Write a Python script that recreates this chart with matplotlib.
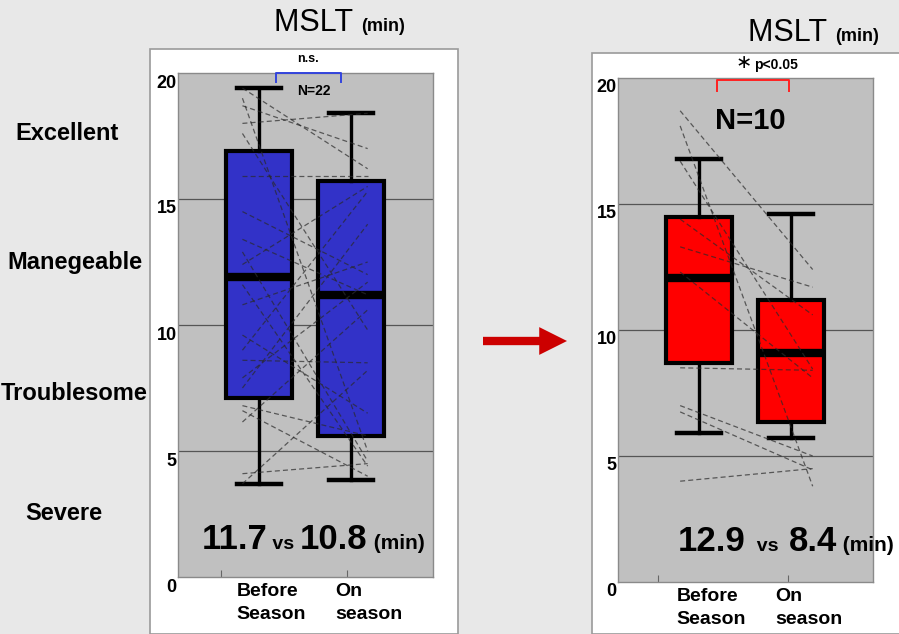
import numpy as np
import matplotlib
matplotlib.use("Agg")
import matplotlib.pyplot as plt
from matplotlib.patches import Rectangle
from matplotlib.transforms import ScaledTranslation
from matplotlib.offsetbox import TextArea, HPacker, AnnotationBbox

plt.rcParams['font.family'] = ['Liberation Sans Narrow', 'Liberation Sans', 'DejaVu Sans']

# ---- data ----
groups = ['Before\nSeason', 'On\nseason']
yticks = [0, 5, 10, 15, 20]
severity = ['Excellent', 'Manegeable', 'Troublesome', 'Severe']

# N=22 panel (box stats)
left_whislo = [3.7, 3.85]
left_q1 = [7.1, 5.6]
left_med = [11.9, 11.2]
left_q3 = [16.9, 15.7]
left_whishi = [19.4, 18.4]
left_before = [19.4, 19.0, 18.7, 18.0, 17.6, 15.9, 14.5, 13.4, 12.9, 12.4, 11.6,
               10.8, 9.6, 9.0, 8.6, 7.9, 7.5, 6.8, 6.6, 6.15, 4.1, 3.7]
left_on = [16.2, 5.0, 17.0, 18.4, 9.8, 15.9, 12.0, 11.2, 4.6, 15.5, 4.4,
           12.5, 6.5, 15.3, 8.5, 11.7, 14.0, 5.6, 4.0, 10.6, 4.5, 8.2]
left_means = ['11.7', '10.8']

# N=10 panel
right_whislo = [5.9, 5.7]
right_q1 = [8.7, 6.35]
right_med = [12.05, 9.1]
right_q3 = [14.5, 11.2]
right_whishi = [16.8, 14.6]
right_before = [18.7, 18.1, 16.7, 14.4, 13.3, 12.3, 8.5, 7.0, 6.75, 4.0]
right_on = [12.4, 3.8, 8.45, 10.6, 11.7, 8.1, 8.4, 5.0, 4.45, 4.5]
right_means = ['12.9', '8.4']

W, H = 899, 634
fig = plt.figure(figsize=(W / 100, H / 100), dpi=100, facecolor='#e8e8e8')


def px(x, y):
    # pixel (from top-left) -> figure fraction
    return x / W, 1 - y / H


# white panels behind the plots
for x0, y0, x1 in [(150, 49, 458), (592, 53, 905)]:
    fig.patches.append(Rectangle(px(x0, H), (x1 - x0) / W, (H - y0) / H,
                                 transform=fig.transFigure, facecolor='white',
                                 edgecolor='#9a9a9a', lw=1.2, zorder=-5))


def panel(rect, stats, before, on, color, xl, xr, xticks):
    ax = fig.add_axes(rect)
    ax.set_zorder(1)
    ax.set_facecolor('#c0c0c0')
    ax.set_xlim(0.11, 2.9)
    ax.set_ylim(0, 20)
    for s in ax.spines.values():
        s.set_color('#8a8a8a')
        s.set_linewidth(1)
    for v in yticks[1:4]:
        ax.axhline(v, color='#555555', lw=0.9, zorder=1)
    ax.bxp(stats, positions=[1, 2], widths=0.72, capwidths=0.48,
           showfliers=False, patch_artist=True,
           boxprops=dict(facecolor=color, edgecolor='black', linewidth=3),
           medianprops=dict(color='black', linewidth=6, solid_capstyle='butt'),
           whiskerprops=dict(color='black', linewidth=2.4),
           capprops=dict(color='black', linewidth=3.2), zorder=2)
    for b, o in zip(before, on):
        ax.plot([xl, xr], [b, o], color='#2a2a2a', lw=0.9, alpha=0.7,
                dashes=(4, 2.5), zorder=3)
    ax.set_yticks(yticks)
    ax.set_yticklabels([str(t) for t in yticks], fontsize=13, fontweight='bold')
    ax.tick_params(axis='y', length=0, pad=1)
    off = ScaledTranslation(0, -8 / 100, fig.dpi_scale_trans)
    for lab in ax.get_yticklabels():
        lab.set_transform(lab.get_transform() + off)
    ax.set_xticks(xticks)
    ax.set_xticklabels([])
    ax.tick_params(axis='x', direction='in', length=5, color='#666666')
    for x, g in zip([0.75, 1.83], groups):
        ax.text(x, -0.012, g, transform=ax.get_xaxis_transform(), ha='left',
                va='top', fontsize=14, fontweight='bold', linespacing=1.45,
                family=['Liberation Sans', 'DejaVu Sans'])
    return ax


def make_stats(lo, q1, med, q3, hi):
    return [dict(whislo=a, q1=b, med=c, q3=d, whishi=e)
            for a, b, c, d, e in zip(lo, q1, med, q3, hi)]


def mixed(parts):
    boxes = [TextArea(t, textprops=dict(fontsize=s, fontweight=w, color='black'))
             for t, s, w in parts]
    return HPacker(children=boxes, align='baseline', pad=0, sep=0)


def place(box, xy):
    ab = AnnotationBbox(box, xy, xycoords='figure fraction', frameon=False,
                        box_alignment=(0.5, 0.0), pad=0)
    ab.set_zorder(10)
    fig.add_artist(ab)


axl = panel([178 / W, 1 - 577 / H, 255 / W, 504 / H],
            make_stats(left_whislo, left_q1, left_med, left_q3, left_whishi),
            left_before, left_on, '#3232c8', 0.815, 2.185, [0.576, 1.957])
axr = panel([618 / W, 1 - 582 / H, 255 / W, 504 / H],
            make_stats(right_whislo, right_q1, right_med, right_q3, right_whishi),
            right_before, right_on, '#ff0000', 0.79, 2.24, [0.55, 1.97])

# significance brackets
axl.plot([1.185, 1.185, 1.89, 1.89], [19.65, 20.0, 20.0, 19.65], color='#3344dd',
         lw=1.4, clip_on=False, zorder=5)
axl.text(1.53, 20.3, 'n.s.', ha='center', va='bottom', fontsize=9, fontweight='bold')
axl.text(1.6, 19.55, 'N=22', ha='center', va='top', fontsize=10, fontweight='bold')

axr.plot([1.19, 1.19, 1.98, 1.98], [19.5, 19.92, 19.92, 19.5], color='#ff2020',
         lw=1.4, clip_on=False, zorder=5)
axr.text(1.58, 20.25, '\u2217', ha='right', va='bottom', fontsize=14,
         family=['DejaVu Sans'])
axr.text(1.6, 20.25, 'p<0.05', ha='left', va='bottom', fontsize=10, fontweight='bold')
axr.text(1.56, 18.3, 'N=10', ha='center', va='center', fontsize=21, fontweight='bold')

# titles and mean annotations
place(mixed([('MSLT ', 22, 'normal'), ('(min)', 13, 'bold')]), px(340, 38))
place(mixed([('MSLT ', 22, 'normal'), ('(min)', 13, 'bold')]), px(814, 48))
place(mixed([(left_means[0], 25, 'bold'), (' vs ', 14, 'bold'),
             (left_means[1], 25, 'bold'), (' (min)', 15, 'bold')]), px(313, 556))
place(mixed([(right_means[0], 25, 'bold'), ('  vs  ', 14, 'bold'),
             (right_means[1], 25, 'bold'), (' (min)', 15, 'bold')]), px(786, 558))

# severity labels on the left
for (x, y), s in zip([(67, 133), (75, 262), (74, 393), (64, 513)], severity):
    fig.text(*px(x, y), s, ha='center', va='center', fontsize=17, fontweight='bold',
             family=['Liberation Sans', 'DejaVu Sans'])

# red arrow between the panels
fig.add_artist(plt.Annotation('', xy=px(567, 341), xytext=px(483, 341),
                              xycoords='figure fraction', textcoords='figure fraction',
                              arrowprops=dict(arrowstyle='simple,head_length=1.0,head_width=1.0,tail_width=0.3',
                                              mutation_scale=20, fc='#cc0000', ec='none',
                                              shrinkA=0, shrinkB=0)))

fig.savefig('out.png', dpi=100, facecolor=fig.get_facecolor())
